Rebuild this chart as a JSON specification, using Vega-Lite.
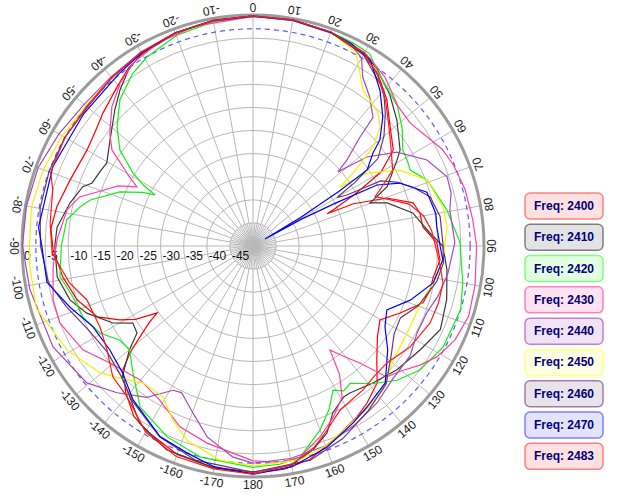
{
"$schema":"https://vega.github.io/schema/vega-lite/v6.json",
"autosize":{"type":"pad"},
"padding":0,
"background":"white",
"config":{"view":{"stroke":null},"font":"Liberation Sans"},
"spacing":19,
"bounds":"flush",
"datasets":{
"curves":[
{"f":"2400","a":-180,"d":-0.8},{"f":"2400","a":-170,"d":-1.2},{"f":"2400","a":-160,"d":-2.0},{"f":"2400","a":-150,"d":-3.8},{"f":"2400","a":-145,"d":-5.0},{"f":"2400","a":-139,"d":-8.0},{"f":"2400","a":-133.6,"d":-11.1},{"f":"2400","a":-131,"d":-14.7},{"f":"2400","a":-128.8,"d":-18.6},{"f":"2400","a":-126.5,"d":-22},{"f":"2400","a":-124.9,"d":-24.7},{"f":"2400","a":-122,"d":-20},{"f":"2400","a":-119,"d":-17},{"f":"2400","a":-114.5,"d":-13},{"f":"2400","a":-107,"d":-10.2},{"f":"2400","a":-99.3,"d":-8.3},{"f":"2400","a":-91,"d":-6.7},{"f":"2400","a":-85,"d":-6.1},{"f":"2400","a":-78.7,"d":-6.7},{"f":"2400","a":-70.2,"d":-7.9},{"f":"2400","a":-60,"d":-8.5},{"f":"2400","a":-54,"d":-7.8},{"f":"2400","a":-48.4,"d":-6.6},{"f":"2400","a":-40.5,"d":-4.7},{"f":"2400","a":-35,"d":-3.0},{"f":"2400","a":-30,"d":-2.0},{"f":"2400","a":-20,"d":-1.0},{"f":"2400","a":-10,"d":-0.5},{"f":"2400","a":0,"d":-0.2},{"f":"2400","a":10,"d":-0.3},{"f":"2400","a":20,"d":-0.8},{"f":"2400","a":30,"d":-2.0},{"f":"2400","a":36,"d":-4.0},{"f":"2400","a":42.5,"d":-7.1},{"f":"2400","a":48,"d":-10.2},{"f":"2400","a":55.6,"d":-13.2},{"f":"2400","a":60,"d":-18},{"f":"2400","a":63,"d":-25},{"f":"2400","a":65.8,"d":-31},{"f":"2400","a":66.5,"d":-32.5},{"f":"2400","a":67.2,"d":-26.4},{"f":"2400","a":70.3,"d":-19.2},{"f":"2400","a":74.9,"d":-14.1},{"f":"2400","a":78.8,"d":-13.2},{"f":"2400","a":83.6,"d":-13},{"f":"2400","a":89,"d":-10.2},{"f":"2400","a":94.3,"d":-9.4},{"f":"2400","a":99.8,"d":-10.4},{"f":"2400","a":104,"d":-10.5},{"f":"2400","a":108.5,"d":-11.2},{"f":"2400","a":114.5,"d":-15},{"f":"2400","a":120.2,"d":-18.2},{"f":"2400","a":126,"d":-16.7},{"f":"2400","a":132.6,"d":-13.6},{"f":"2400","a":137.8,"d":-10},{"f":"2400","a":144,"d":-8},{"f":"2400","a":148.7,"d":-6.7},{"f":"2400","a":157.6,"d":-4.5},{"f":"2400","a":165,"d":-2.2},{"f":"2400","a":172,"d":-1.2},{"f":"2400","a":180,"d":-0.8},

{"f":"2410","a":-180,"d":-1.1},{"f":"2410","a":-170,"d":-1.3},{"f":"2410","a":-157,"d":-2.1},{"f":"2410","a":-147.4,"d":-4.5},{"f":"2410","a":-138.8,"d":-8.6},{"f":"2410","a":-135,"d":-10},{"f":"2410","a":-130,"d":-15.1},{"f":"2410","a":-126.9,"d":-18.6},{"f":"2410","a":-122.7,"d":-19.1},{"f":"2410","a":-118.8,"d":-15.4},{"f":"2410","a":-112,"d":-11.2},{"f":"2410","a":-106.4,"d":-8.7},{"f":"2410","a":-99,"d":-7.1},{"f":"2410","a":-90,"d":-7.1},{"f":"2410","a":-84.5,"d":-7.4},{"f":"2410","a":-76.8,"d":-9.3},{"f":"2410","a":-70.8,"d":-11},{"f":"2410","a":-68.6,"d":-12.6},{"f":"2410","a":-64,"d":-13.2},{"f":"2410","a":-60.4,"d":-13.6},{"f":"2410","a":-53.5,"d":-11.5},{"f":"2410","a":-45.4,"d":-8.0},{"f":"2410","a":-40.4,"d":-5.6},{"f":"2410","a":-35,"d":-3.2},{"f":"2410","a":-30,"d":-1.8},{"f":"2410","a":-20,"d":-0.9},{"f":"2410","a":-10,"d":-0.4},{"f":"2410","a":0,"d":-0.2},{"f":"2410","a":10,"d":-0.3},{"f":"2410","a":20,"d":-0.8},{"f":"2410","a":30,"d":-1.8},{"f":"2410","a":35,"d":-3.2},{"f":"2410","a":42,"d":-5.8},{"f":"2410","a":48.8,"d":-8.6},{"f":"2410","a":56.9,"d":-12},{"f":"2410","a":59.2,"d":-13.7},{"f":"2410","a":66.2,"d":-18.3},{"f":"2410","a":69.8,"d":-23},{"f":"2410","a":72.2,"d":-19.5},{"f":"2410","a":78.3,"d":-14.7},{"f":"2410","a":85.8,"d":-11.6},{"f":"2410","a":90,"d":-8.9},{"f":"2410","a":97,"d":-7.7},{"f":"2410","a":105.5,"d":-6.5},{"f":"2410","a":114,"d":-5.6},{"f":"2410","a":121.9,"d":-7.4},{"f":"2410","a":130.7,"d":-8.9},{"f":"2410","a":138.8,"d":-10.6},{"f":"2410","a":146.6,"d":-11.9},{"f":"2410","a":149,"d":-11.9},{"f":"2410","a":154.4,"d":-10},{"f":"2410","a":158.4,"d":-6.5},{"f":"2410","a":163.6,"d":-4.0},{"f":"2410","a":170,"d":-1.8},{"f":"2410","a":180,"d":-1.1},

{"f":"2420","a":-180,"d":-2.1},{"f":"2420","a":-166,"d":-2.9},{"f":"2420","a":-155.8,"d":-4.7},{"f":"2420","a":-145,"d":-7.4},{"f":"2420","a":-136.6,"d":-12.2},{"f":"2420","a":-130,"d":-15.1},{"f":"2420","a":-125.3,"d":-14.7},{"f":"2420","a":-119.6,"d":-11.9},{"f":"2420","a":-112.7,"d":-10.1},{"f":"2420","a":-105.8,"d":-9.5},{"f":"2420","a":-99,"d":-7.7},{"f":"2420","a":-90,"d":-8.5},{"f":"2420","a":-82,"d":-9.3},{"f":"2420","a":-77.3,"d":-11.6},{"f":"2420","a":-74.2,"d":-13.4},{"f":"2420","a":-67.9,"d":-18.9},{"f":"2420","a":-64,"d":-23.5},{"f":"2420","a":-62.5,"d":-26.1},{"f":"2420","a":-61,"d":-23},{"f":"2420","a":-58.7,"d":-19.6},{"f":"2420","a":-54.2,"d":-14.5},{"f":"2420","a":-48.8,"d":-10.9},{"f":"2420","a":-42.3,"d":-7.2},{"f":"2420","a":-35,"d":-4.5},{"f":"2420","a":-29.3,"d":-3.1},{"f":"2420","a":-20,"d":-1.5},{"f":"2420","a":-10,"d":-0.7},{"f":"2420","a":0,"d":-0.3},{"f":"2420","a":10,"d":-0.3},{"f":"2420","a":20,"d":-0.7},{"f":"2420","a":26.2,"d":-1.0},{"f":"2420","a":31.2,"d":-1.3},{"f":"2420","a":35.2,"d":-3.4},{"f":"2420","a":46,"d":-6.5},{"f":"2420","a":52,"d":-9},{"f":"2420","a":57.4,"d":-11.5},{"f":"2420","a":60.8,"d":-11.8},{"f":"2420","a":64.2,"d":-12.2},{"f":"2420","a":69.2,"d":-9.7},{"f":"2420","a":79.5,"d":-7.3},{"f":"2420","a":89,"d":-5.2},{"f":"2420","a":100,"d":-3.9},{"f":"2420","a":107,"d":-3.0},{"f":"2420","a":118,"d":-3.4},{"f":"2420","a":126.6,"d":-5.0},{"f":"2420","a":133,"d":-7.4},{"f":"2420","a":139,"d":-10.5},{"f":"2420","a":144.7,"d":-13.6},{"f":"2420","a":148,"d":-13.0},{"f":"2420","a":151,"d":-14.3},{"f":"2420","a":155,"d":-11},{"f":"2420","a":160,"d":-7.6},{"f":"2420","a":167.4,"d":-3.2},{"f":"2420","a":173,"d":-2.4},{"f":"2420","a":180,"d":-2.1},

{"f":"2430","a":-180,"d":-3.5},{"f":"2430","a":-166.9,"d":-6.2},{"f":"2430","a":-158,"d":-7.8},{"f":"2430","a":-148.9,"d":-11.0},{"f":"2430","a":-139.9,"d":-12.1},{"f":"2430","a":-129.3,"d":-10},{"f":"2430","a":-121.5,"d":-6.9},{"f":"2430","a":-111.8,"d":-5.0},{"f":"2430","a":-105,"d":-5.2},{"f":"2430","a":-96,"d":-6.5},{"f":"2430","a":-88,"d":-7.6},{"f":"2430","a":-79,"d":-9},{"f":"2430","a":-74.2,"d":-11},{"f":"2430","a":-70.9,"d":-14.3},{"f":"2430","a":-66,"d":-18},{"f":"2430","a":-63,"d":-21.8},{"f":"2430","a":-60.5,"d":-19},{"f":"2430","a":-58.7,"d":-17.1},{"f":"2430","a":-55.8,"d":-13.1},{"f":"2430","a":-51.7,"d":-10.5},{"f":"2430","a":-45.4,"d":-7.1},{"f":"2430","a":-39.2,"d":-4.5},{"f":"2430","a":-33,"d":-2.6},{"f":"2430","a":-25,"d":-1.5},{"f":"2430","a":-15,"d":-0.8},{"f":"2430","a":0,"d":-0.3},{"f":"2430","a":10,"d":-0.4},{"f":"2430","a":20,"d":-0.8},{"f":"2430","a":30,"d":-1.6},{"f":"2430","a":38,"d":-3.6},{"f":"2430","a":46,"d":-6.4},{"f":"2430","a":52,"d":-6.8},{"f":"2430","a":58,"d":-5.5},{"f":"2430","a":63,"d":-4},{"f":"2430","a":68,"d":-3.2},{"f":"2430","a":75,"d":-2.5},{"f":"2430","a":83,"d":-2.1},{"f":"2430","a":90,"d":-1.6},{"f":"2430","a":100,"d":-1.2},{"f":"2430","a":108,"d":-0.9},{"f":"2430","a":115,"d":-1.8},{"f":"2430","a":121,"d":-3.5},{"f":"2430","a":125.5,"d":-5.6},{"f":"2430","a":130,"d":-8},{"f":"2430","a":134.4,"d":-9.5},{"f":"2430","a":137.6,"d":-15.7},{"f":"2430","a":141,"d":-19.5},{"f":"2430","a":143.5,"d":-22},{"f":"2430","a":146,"d":-16.5},{"f":"2430","a":149.5,"d":-12},{"f":"2430","a":155,"d":-9},{"f":"2430","a":160.7,"d":-6.2},{"f":"2430","a":167.4,"d":-3.2},{"f":"2430","a":173,"d":-2.8},{"f":"2430","a":180,"d":-3.5},

{"f":"2440","a":-180,"d":-3.0},{"f":"2440","a":-174.6,"d":-4.1},{"f":"2440","a":-166.5,"d":-7.5},{"f":"2440","a":-160.2,"d":-11.6},{"f":"2440","a":-154,"d":-14.7},{"f":"2440","a":-151,"d":-14.3},{"f":"2440","a":-145,"d":-10},{"f":"2440","a":-137.2,"d":-6.7},{"f":"2440","a":-129.5,"d":-3.4},{"f":"2440","a":-116.8,"d":-1.5},{"f":"2440","a":-101,"d":-0.8},{"f":"2440","a":-90,"d":-0.1},{"f":"2440","a":-80,"d":-0.2},{"f":"2440","a":-70,"d":-0.5},{"f":"2440","a":-60,"d":-1.5},{"f":"2440","a":-50,"d":-2.3},{"f":"2440","a":-40,"d":-2.2},{"f":"2440","a":-30,"d":-1.5},{"f":"2440","a":-20,"d":-0.9},{"f":"2440","a":-10,"d":-0.5},{"f":"2440","a":0,"d":-0.3},{"f":"2440","a":10,"d":-0.4},{"f":"2440","a":20,"d":-0.9},{"f":"2440","a":26,"d":-1.6},{"f":"2440","a":30,"d":-3.0},{"f":"2440","a":33,"d":-6.4},{"f":"2440","a":38,"d":-9},{"f":"2440","a":43,"d":-11.9},{"f":"2440","a":44.5,"d":-17},{"f":"2440","a":47.5,"d":-22.4},{"f":"2440","a":48.9,"d":-25.6},{"f":"2440","a":50,"d":-23.5},{"f":"2440","a":52,"d":-18.7},{"f":"2440","a":56.9,"d":-12.8},{"f":"2440","a":63.7,"d":-8.0},{"f":"2440","a":70.4,"d":-5.4},{"f":"2440","a":75,"d":-5.6},{"f":"2440","a":79.6,"d":-6.7},{"f":"2440","a":89,"d":-6.3},{"f":"2440","a":98,"d":-7.4},{"f":"2440","a":105,"d":-8.5},{"f":"2440","a":111,"d":-9.7},{"f":"2440","a":118,"d":-9.8},{"f":"2440","a":125,"d":-8.5},{"f":"2440","a":134,"d":-8.2},{"f":"2440","a":141.7,"d":-6.7},{"f":"2440","a":150,"d":-5.5},{"f":"2440","a":160,"d":-4.0},{"f":"2440","a":170,"d":-3.3},{"f":"2440","a":180,"d":-3.0},

{"f":"2450","a":-180,"d":-2.4},{"f":"2450","a":-171.2,"d":-3.1},{"f":"2450","a":-161.2,"d":-5.6},{"f":"2450","a":-155.3,"d":-8.5},{"f":"2450","a":-149.2,"d":-12},{"f":"2450","a":-141.2,"d":-12},{"f":"2450","a":-135,"d":-9.5},{"f":"2450","a":-129.7,"d":-7},{"f":"2450","a":-119.2,"d":-3.9},{"f":"2450","a":-106,"d":-1.2},{"f":"2450","a":-95,"d":-1.5},{"f":"2450","a":-90,"d":-1.6},{"f":"2450","a":-80,"d":-1.3},{"f":"2450","a":-70,"d":-1.7},{"f":"2450","a":-60,"d":-2.3},{"f":"2450","a":-50,"d":-2.8},{"f":"2450","a":-40,"d":-2.5},{"f":"2450","a":-30,"d":-1.6},{"f":"2450","a":-20,"d":-0.9},{"f":"2450","a":-10,"d":-0.4},{"f":"2450","a":0,"d":-0.2},{"f":"2450","a":10,"d":-0.3},{"f":"2450","a":20,"d":-0.8},{"f":"2450","a":28,"d":-2.5},{"f":"2450","a":35.2,"d":-8.7},{"f":"2450","a":43.2,"d":-10.5},{"f":"2450","a":46.9,"d":-12.3},{"f":"2450","a":50.5,"d":-16.3},{"f":"2450","a":53.9,"d":-23.2},{"f":"2450","a":55.9,"d":-27.3},{"f":"2450","a":57.4,"d":-20.7},{"f":"2450","a":62.7,"d":-14.2},{"f":"2450","a":69.2,"d":-9.7},{"f":"2450","a":78.4,"d":-8.0},{"f":"2450","a":84.4,"d":-7.8},{"f":"2450","a":94.2,"d":-8.8},{"f":"2450","a":100,"d":-9.8},{"f":"2450","a":107.6,"d":-11.5},{"f":"2450","a":119.5,"d":-11.7},{"f":"2450","a":129,"d":-10.9},{"f":"2450","a":137.9,"d":-8},{"f":"2450","a":145,"d":-7},{"f":"2450","a":152.6,"d":-5.8},{"f":"2450","a":160,"d":-4},{"f":"2450","a":167.6,"d":-2.6},{"f":"2450","a":180,"d":-2.4},

{"f":"2460","a":-180,"d":-1.0},{"f":"2460","a":-165,"d":-2.0},{"f":"2460","a":-154,"d":-4.0},{"f":"2460","a":-142,"d":-7.5},{"f":"2460","a":-134,"d":-10},{"f":"2460","a":-126,"d":-11},{"f":"2460","a":-117,"d":-10},{"f":"2460","a":-108,"d":-7.5},{"f":"2460","a":-100,"d":-5},{"f":"2460","a":-90,"d":-4},{"f":"2460","a":-80,"d":-3.2},{"f":"2460","a":-70,"d":-3.0},{"f":"2460","a":-60,"d":-3.0},{"f":"2460","a":-50,"d":-3.2},{"f":"2460","a":-40,"d":-2.5},{"f":"2460","a":-30,"d":-1.6},{"f":"2460","a":-20,"d":-0.9},{"f":"2460","a":-10,"d":-0.5},{"f":"2460","a":0,"d":-0.3},{"f":"2460","a":10,"d":-0.4},{"f":"2460","a":20,"d":-0.8},{"f":"2460","a":30,"d":-2.2},{"f":"2460","a":40,"d":-6.0},{"f":"2460","a":45,"d":-9.5},{"f":"2460","a":50,"d":-13},{"f":"2460","a":55,"d":-17},{"f":"2460","a":58,"d":-24},{"f":"2460","a":60,"d":-29},{"f":"2460","a":61.5,"d":-27},{"f":"2460","a":63,"d":-19},{"f":"2460","a":66,"d":-16},{"f":"2460","a":70,"d":-13},{"f":"2460","a":74.5,"d":-10.2},{"f":"2460","a":81,"d":-9},{"f":"2460","a":89,"d":-8.9},{"f":"2460","a":95,"d":-8.6},{"f":"2460","a":101,"d":-9.5},{"f":"2460","a":110,"d":-12},{"f":"2460","a":116,"d":-14.5},{"f":"2460","a":122,"d":-14},{"f":"2460","a":128,"d":-12},{"f":"2460","a":136,"d":-8.5},{"f":"2460","a":145,"d":-6.5},{"f":"2460","a":155,"d":-4},{"f":"2460","a":165,"d":-2},{"f":"2460","a":180,"d":-1.0},

{"f":"2470","a":-180,"d":-0.6},{"f":"2470","a":-170,"d":-1.5},{"f":"2470","a":-162.3,"d":-3},{"f":"2470","a":-154,"d":-4.1},{"f":"2470","a":-142,"d":-7.8},{"f":"2470","a":-134.3,"d":-10.6},{"f":"2470","a":-126,"d":-11.7},{"f":"2470","a":-116.8,"d":-11.2},{"f":"2470","a":-108.4,"d":-8.2},{"f":"2470","a":-100,"d":-4.7},{"f":"2470","a":-90,"d":-4.3},{"f":"2470","a":-85,"d":-3.4},{"f":"2470","a":-68.4,"d":-3.4},{"f":"2470","a":-52,"d":-3.5},{"f":"2470","a":-38.2,"d":-2.8},{"f":"2470","a":-30,"d":-1.7},{"f":"2470","a":-20,"d":-0.9},{"f":"2470","a":-10,"d":-0.4},{"f":"2470","a":0,"d":-0.2},{"f":"2470","a":10,"d":-0.3},{"f":"2470","a":20,"d":-0.8},{"f":"2470","a":26,"d":-1.3},{"f":"2470","a":32.2,"d":-2.4},{"f":"2470","a":39.2,"d":-6.5},{"f":"2470","a":45.2,"d":-10.4},{"f":"2470","a":50.1,"d":-14.2},{"f":"2470","a":52.2,"d":-17.1},{"f":"2470","a":56.3,"d":-20.3},{"f":"2470","a":57.5,"d":-28},{"f":"2470","a":59,"d":-38},{"f":"2470","a":60,"d":-47},{"f":"2470","a":61,"d":-38},{"f":"2470","a":62.5,"d":-30},{"f":"2470","a":63.8,"d":-20.1},{"f":"2470","a":66.8,"d":-15.4},{"f":"2470","a":72.8,"d":-10.6},{"f":"2470","a":75.4,"d":-10.4},{"f":"2470","a":80,"d":-9.8},{"f":"2470","a":84.1,"d":-10},{"f":"2470","a":90,"d":-9.5},{"f":"2470","a":94.2,"d":-8.8},{"f":"2470","a":101.6,"d":-10.2},{"f":"2470","a":109,"d":-14},{"f":"2470","a":115.5,"d":-17.9},{"f":"2470","a":121.5,"d":-16.5},{"f":"2470","a":127.6,"d":-13.2},{"f":"2470","a":136,"d":-8.8},{"f":"2470","a":144.7,"d":-7.3},{"f":"2470","a":150.5,"d":-6},{"f":"2470","a":159.8,"d":-3.6},{"f":"2470","a":170,"d":-1.5},{"f":"2470","a":180,"d":-0.6},

{"f":"2483","a":-180,"d":-0.6},{"f":"2483","a":-170,"d":-1.0},{"f":"2483","a":-160,"d":-1.5},{"f":"2483","a":-150,"d":-3.5},{"f":"2483","a":-140,"d":-7.5},{"f":"2483","a":-133,"d":-8.5},{"f":"2483","a":-125.5,"d":-11.2},{"f":"2483","a":-118,"d":-12.5},{"f":"2483","a":-108,"d":-12.2},{"f":"2483","a":-101.4,"d":-9.5},{"f":"2483","a":-92,"d":-6.5},{"f":"2483","a":-83.5,"d":-5.8},{"f":"2483","a":-74.4,"d":-5.0},{"f":"2483","a":-70,"d":-3.4},{"f":"2483","a":-60,"d":-3.0},{"f":"2483","a":-50,"d":-3.0},{"f":"2483","a":-40,"d":-2.4},{"f":"2483","a":-30,"d":-1.6},{"f":"2483","a":-20,"d":-0.9},{"f":"2483","a":-10,"d":-0.4},{"f":"2483","a":0,"d":-0.2},{"f":"2483","a":10,"d":-0.3},{"f":"2483","a":20,"d":-0.7},{"f":"2483","a":30,"d":-1.8},{"f":"2483","a":36,"d":-4.2},{"f":"2483","a":42.5,"d":-7.5},{"f":"2483","a":48,"d":-10.5},{"f":"2483","a":55,"d":-13.5},{"f":"2483","a":61.5,"d":-15.6},{"f":"2483","a":65,"d":-19},{"f":"2483","a":68,"d":-21.5},{"f":"2483","a":71,"d":-19},{"f":"2483","a":75,"d":-15},{"f":"2483","a":80,"d":-12.5},{"f":"2483","a":85,"d":-11.2},{"f":"2483","a":90,"d":-10.5},{"f":"2483","a":95,"d":-9.5},{"f":"2483","a":101,"d":-8.1},{"f":"2483","a":107,"d":-8.0},{"f":"2483","a":113.5,"d":-8.2},{"f":"2483","a":122.8,"d":-9.6},{"f":"2483","a":131,"d":-11.5},{"f":"2483","a":137,"d":-11.5},{"f":"2483","a":142.6,"d":-10.8},{"f":"2483","a":152,"d":-9.8},{"f":"2483","a":158,"d":-7.1},{"f":"2483","a":163,"d":-4.5},{"f":"2483","a":170,"d":-2.0},{"f":"2483","a":180,"d":-0.6}
],
"spokes":[{"a":0},{"a":10},{"a":20},{"a":30},{"a":40},{"a":50},{"a":60},{"a":70},{"a":80},{"a":90},{"a":100},{"a":110},{"a":120},{"a":130},{"a":140},{"a":150},{"a":160},{"a":170},{"a":180},{"a":-10},{"a":-20},{"a":-30},{"a":-40},{"a":-50},{"a":-60},{"a":-70},{"a":-80},{"a":-90},{"a":-100},{"a":-110},{"a":-120},{"a":-130},{"a":-140},{"a":-150},{"a":-160},{"a":-170}],
"minor":[{"a":5},{"a":15},{"a":25},{"a":35},{"a":45},{"a":55},{"a":65},{"a":75},{"a":85},{"a":95},{"a":105},{"a":115},{"a":125},{"a":135},{"a":145},{"a":155},{"a":165},{"a":175},{"a":-5},{"a":-15},{"a":-25},{"a":-35},{"a":-45},{"a":-55},{"a":-65},{"a":-75},{"a":-85},{"a":-95},{"a":-105},{"a":-115},{"a":-125},{"a":-135},{"a":-145},{"a":-155},{"a":-165},{"a":-175}],
"rings":[{"d":-5},{"d":-10},{"d":-15},{"d":-20},{"d":-25},{"d":-30},{"d":-35},{"d":-40},{"d":-45}],
"rlabels":[{"d":0},{"d":-5},{"d":-10},{"d":-15},{"d":-20},{"d":-25},{"d":-30},{"d":-35},{"d":-40},{"d":-45}],
"legend":[{"f":"2400"},{"f":"2410"},{"f":"2420"},{"f":"2430"},{"f":"2440"},{"f":"2450"},{"f":"2460"},{"f":"2470"},{"f":"2483"}]
},
"hconcat":[
{
"width":506,"height":503,
"layer":[
{"data":{"name":"spokes"},"transform":[{"calculate":"50*sin(datum.a*PI/180)","as":"x2"},{"calculate":"50*cos(datum.a*PI/180)","as":"y2"},{"calculate":"0","as":"o"}],
 "mark":{"type":"rule","stroke":"#b8b8b8","strokeWidth":1},
 "encoding":{"x":{"field":"o","type":"quantitative","scale":{"domain":[-54.762,54.762],"nice":false,"zero":false},"axis":null},
  "y":{"field":"o","type":"quantitative","scale":{"domain":[-55.628,53.247],"nice":false,"zero":false},"axis":null},
  "x2":{"field":"x2"},"y2":{"field":"y2"}}},
{"data":{"name":"minor"},"transform":[{"calculate":"5*sin(datum.a*PI/180)","as":"x2"},{"calculate":"5*cos(datum.a*PI/180)","as":"y2"},{"calculate":"0","as":"o"}],
 "mark":{"type":"rule","stroke":"#b8b8b8","strokeWidth":1},
 "encoding":{"x":{"field":"o","type":"quantitative"},"y":{"field":"o","type":"quantitative"},"x2":{"field":"x2"},"y2":{"field":"y2"}}},
{"data":{"name":"rings"},"transform":[{"calculate":"datum.d+50","as":"rr"},{"calculate":"0","as":"o"}],
 "mark":{"type":"point","shape":"circle","filled":false,"stroke":"#b8b8b8","strokeWidth":1,"opacity":1},
 "encoding":{"x":{"field":"o","type":"quantitative"},"y":{"field":"o","type":"quantitative"},
  "size":{"field":"rr","type":"quantitative","scale":{"type":"pow","exponent":2,"domain":[0,50],"range":[0,213444],"zero":true,"nice":false},"legend":null}}},
{"data":{"values":[{"rr":50}]},"transform":[{"calculate":"0","as":"o"}],
 "mark":{"type":"point","shape":"circle","filled":false,"stroke":"#9c9c9c","strokeWidth":3,"opacity":1},
 "encoding":{"x":{"field":"o","type":"quantitative"},"y":{"field":"o","type":"quantitative"},"size":{"field":"rr","type":"quantitative"}}},
{"data":{"values":[{"rr":47}]},"transform":[{"calculate":"0","as":"o"}],
 "mark":{"type":"point","shape":"circle","filled":false,"stroke":"#5a5aff","strokeWidth":1.2,"strokeDash":[5,4],"opacity":1},
 "encoding":{"x":{"field":"o","type":"quantitative"},"y":{"field":"o","type":"quantitative"},"size":{"field":"rr","type":"quantitative"}}},
{"data":{"name":"rlabels"},"transform":[{"calculate":"-(datum.d+50)","as":"x"},{"calculate":"0","as":"o"},{"calculate":"'' + datum.d","as":"t"}],
 "mark":{"type":"text","align":"left","baseline":"middle","dx":2,"dy":10,"fontSize":12,"color":"#111111"},
 "encoding":{"x":{"field":"x","type":"quantitative"},"y":{"field":"o","type":"quantitative"},"text":{"field":"t","type":"nominal"}}},
{"data":{"name":"curves"},"transform":[{"calculate":"(datum.d+50)*sin(datum.a*PI/180)","as":"x"},{"calculate":"(datum.d+50)*cos(datum.a*PI/180)","as":"y"}],
 "mark":{"type":"line","strokeWidth":1.2},
 "encoding":{"x":{"field":"x","type":"quantitative"},"y":{"field":"y","type":"quantitative"},"order":{"field":"a","type":"quantitative"},
  "color":{"field":"f","type":"nominal","legend":null,"scale":{"domain":["2400","2410","2420","2430","2440","2450","2460","2470","2483"],"range":["#ff0000","#3a3a3a","#11ee11","#ff3fa0","#a24bb5","#f2f200","#6b3a6b","#0000ff","#ff1a1a"]}}}},
{"data":{"name":"spokes"},"transform":[{"calculate":"51.8*sin(datum.a*PI/180)","as":"x"},{"calculate":"51.8*cos(datum.a*PI/180)","as":"y"},{"calculate":"datum.a+180","as":"rot"},{"calculate":"'' + datum.a","as":"t"}],
 "mark":{"type":"text","align":"center","baseline":"middle","fontSize":12,"color":"#222222"},
 "encoding":{"x":{"field":"x","type":"quantitative"},"y":{"field":"y","type":"quantitative"},"angle":{"field":"rot","type":"quantitative","scale":null},"text":{"field":"t","type":"nominal"}}}
]
},
{
"width":78,"height":503,
"data":{"name":"legend"},
"transform":[{"calculate":"'Freq: ' + datum.f","as":"lbl"}],
"layer":[
{"mark":{"type":"rect","cornerRadius":5,"strokeWidth":1.5},
 "encoding":{"y":{"field":"f","type":"nominal","axis":null,"sort":null,"scale":{"type":"band","range":[190.3,472],"paddingInner":0.17,"paddingOuter":0.085}},
  "fill":{"field":"f","type":"nominal","legend":null,"scale":{"domain":["2400","2410","2420","2430","2440","2450","2460","2470","2483"],"range":["#ffe1e1","#e3e3e3","#e3ffe3","#ffe3f1","#f1e3f3","#ffffe3","#ebe3eb","#e3e3ff","#ffe1e1"]}},
  "stroke":{"field":"f","type":"nominal","legend":null,"scale":{"domain":["2400","2410","2420","2430","2440","2450","2460","2470","2483"],"range":["#ff8080","#808080","#80ff80","#ff80c0","#c080d0","#ffff80","#a080a0","#8080ff","#ff8080"]}}}},
{"mark":{"type":"text","fontWeight":"bold","fontSize":12,"color":"#00007a","align":"center","baseline":"middle"},
 "encoding":{"y":{"field":"f","type":"nominal","axis":null,"sort":null},"text":{"field":"lbl","type":"nominal"}}}
]
}
]
}
